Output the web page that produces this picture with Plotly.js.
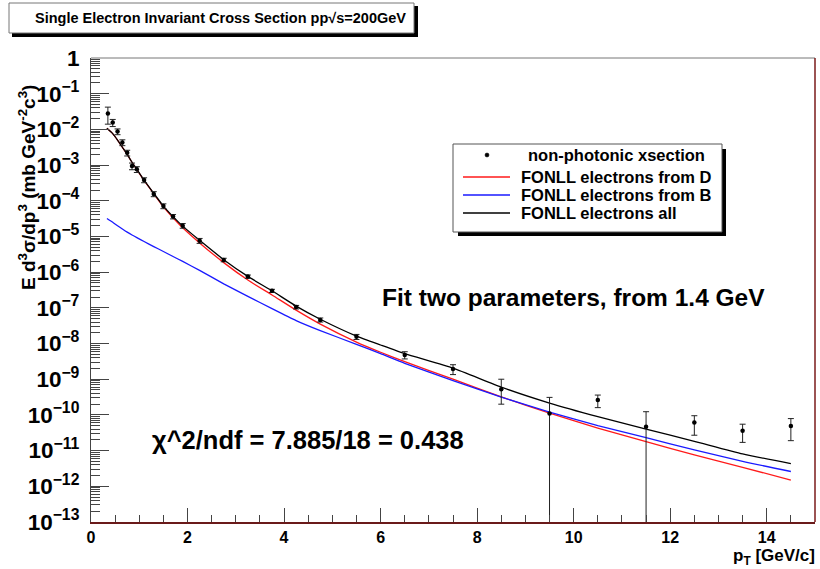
<!DOCTYPE html>
<html><head><meta charset="utf-8">
<script src="https://cdn.plot.ly/plotly-3.0.1.min.js"></script>
<style>html,body{margin:0;padding:0;background:#fff}#chart{width:820px;height:569px}</style>
</head><body><div id="chart"></div>
<script>
// measured data: non-photonic electron invariant cross section
const dataPt = [0.35,0.45,0.55,0.65,0.75,0.85,0.95,1.1,1.3,1.5,1.7,1.9,2.25,2.75,3.25,3.75,4.25,4.75,5.5,6.5,7.5,8.5,9.5,10.5,11.5,12.5,13.5,14.5];
const dataXsec = [2.8e-2,1.55e-2,8.7e-3,4.3e-3,2.2e-3,9.4e-4,7.6e-4,3.8e-4,1.55e-4,7.1e-5,3.6e-5,2.0e-5,7.6e-6,2.2e-6,7.5e-7,3.0e-7,1.05e-7,4.6e-8,1.55e-8,4.8e-9,1.95e-9,5.2e-10,1.1e-10,2.6e-10,4.7e-11,6.1e-11,3.6e-11,4.9e-11];
const dataErrPlus = [1.4e-2,3.5e-3,1.6e-3,8e-4,4e-4,2e-4,1.4e-4,6e-5,2.5e-5,1.1e-5,5e-6,3e-6,1.2e-6,2.5e-7,8e-8,3e-8,1.2e-8,6e-9,2.5e-9,1.1e-9,6e-10,4.8e-10,2.0e-10,1.0e-10,7.6e-11,3.4e-11,1.9e-11,3.0e-11];
const dataErrMinus = [1.4e-2,3.5e-3,1.6e-3,8e-4,4e-4,2e-4,1.4e-4,6e-5,2.5e-5,1.1e-5,5e-6,3e-6,1.2e-6,2.5e-7,8e-8,3e-8,1.2e-8,6e-9,2.5e-9,1.1e-9,6e-10,3.2e-10,2.0e-10,1.0e-10,7.6e-11,3.4e-11,1.9e-11,3.0e-11];

// FONLL curves
const curvePt = [0.33,0.45,0.55,0.65,0.75,0.85,0.95,1.1,1.3,1.5,1.7,1.9,2.25,2.75,3.25,3.75,4.25,4.75,5.5,6.0,6.5,7.5,8.5,9.5,10.5,11.5,12.5,13.5,14.5];
const fonllD = [1.07e-2,7.6e-3,5.0e-3,3.15e-3,1.98e-3,1.19e-3,7.5e-4,3.7e-4,1.57e-4,6.8e-5,3.35e-5,1.75e-5,6.6e-6,1.85e-6,6.0e-7,2.3e-7,8.6e-8,3.5e-8,1.1e-8,5.7e-9,3.1e-9,1.0e-9,3.2e-10,1.12e-10,4.3e-11,1.78e-11,7.6e-12,3.4e-12,1.5e-12];
const fonllB = [3.2e-5,2.5e-5,2.0e-5,1.62e-5,1.32e-5,1.1e-5,9.3e-6,7.2e-6,5.2e-6,3.8e-6,2.75e-6,2.0e-6,1.12e-6,4.7e-7,2.1e-7,9.5e-8,4.4e-8,2.3e-8,9.5e-9,5.2e-9,2.8e-9,9.2e-10,3.16e-10,1.2e-10,5.0e-11,2.3e-11,1.05e-11,5.0e-12,2.6e-12];
const fonllAll = [1.07e-2,7.6e-3,5.0e-3,3.16e-3,2.0e-3,1.2e-3,7.6e-4,3.8e-4,1.62e-4,7.1e-5,3.6e-5,1.95e-5,7.8e-6,2.24e-6,7.6e-7,3.0e-7,1.12e-7,4.8e-8,1.62e-8,9.1e-9,5.2e-9,2.04e-9,6.0e-10,2.14e-10,8.9e-11,4.0e-11,1.82e-11,8.1e-12,4.3e-12];

const legendLabels = ['non-photonic xsection','FONLL electrons from D','FONLL electrons from B','FONLL electrons all'];
const titleText = 'Single Electron Invariant Cross Section pp\u221As=200GeV';

const FONT = 'Liberation Sans, Arial, Helvetica, sans-serif';
const L = 91, T = 58, R = 815, B = 522; // plot area in pixels
const W = R - L, H = B - T;
function px(x){ return (x - L) / W; }
function py(y){ return (B - y) / H; }
function pixRect(x0, y0, x1, y1, style){
  return Object.assign({type:'rect', xref:'paper', yref:'paper', xsizemode:'pixel', ysizemode:'pixel',
    xanchor:0, yanchor:0, x0:x0-L, x1:x1-L, y0:B-y1, y1:B-y0}, style);
}
function pixCircle(x0, y0, x1, y1, style){
  return Object.assign(pixRect(x0, y0, x1, y1, style), {type:'circle'});
}
function pixLine(x0, y0, x1, y1, style){
  return Object.assign({type:'line', xref:'paper', yref:'paper', xsizemode:'pixel', ysizemode:'pixel',
    xanchor:0, yanchor:0, x0:x0-L, x1:x1-L, y0:B-y0, y1:B-y1}, style);
}

const traces = [
  {x: curvePt, y: fonllD, mode:'lines', line:{color:'#ff1a1a', width:1.3, shape:'spline', smoothing:0.5}, showlegend:false, hoverinfo:'skip'},
  {x: curvePt, y: fonllB, mode:'lines', line:{color:'#1a1aff', width:1.3, shape:'spline', smoothing:0.5}, showlegend:false, hoverinfo:'skip'},
  {x: curvePt, y: fonllAll, mode:'lines', line:{color:'#000000', width:1.3, shape:'spline', smoothing:0.5}, showlegend:false, hoverinfo:'skip'},
  {x: dataPt, y: dataXsec, mode:'markers', marker:{color:'#000', size:4.5},
   error_y:{type:'data', symmetric:false, array:dataErrPlus, arrayminus:dataErrMinus, color:'#222', thickness:1, width:3},
   showlegend:false}
];

const shapes = [
  // title box with shadow
  pixRect(12, 6, 418, 37, {fillcolor:'#000', line:{width:0}}),
  pixRect(9, 3, 414, 33, {fillcolor:'#fff', line:{color:'#777', width:1}}),
  // legend box with shadow
  pixRect(458, 149, 726, 236, {fillcolor:'#000', line:{width:0}}),
  pixRect(453, 144, 722, 232, {fillcolor:'#fff', line:{color:'#555', width:1}}),
  // legend samples
  pixLine(463, 177, 510, 177, {line:{color:'#ff1a1a', width:1.3}}),
  pixLine(463, 195, 510, 195, {line:{color:'#1a1aff', width:1.3}}),
  pixLine(463, 213, 510, 213, {line:{color:'#000', width:1.3}}),
  pixCircle(485, 153, 489, 157, {fillcolor:'#000', line:{color:'#000', width:0.5}}),
  // frame top/right
  pixLine(L, T, R, T, {line:{color:'#777', width:1}}),
  pixLine(R, T, R, B, {line:{color:'#7a1a1a', width:1.5}})
];

const LEGFONT = {family:FONT, size:16.5, color:'#000', weight:'bold'};
const annotations = [
  {xref:'paper', yref:'paper', x:px(526), y:py(155), xanchor:'left', yanchor:'middle', showarrow:false,
   text:legendLabels[0], font:LEGFONT},
  {xref:'paper', yref:'paper', x:px(519), y:py(177), xanchor:'left', yanchor:'middle', showarrow:false,
   text:legendLabels[1], font:LEGFONT},
  {xref:'paper', yref:'paper', x:px(519), y:py(195), xanchor:'left', yanchor:'middle', showarrow:false,
   text:legendLabels[2], font:LEGFONT},
  {xref:'paper', yref:'paper', x:px(519), y:py(213), xanchor:'left', yanchor:'middle', showarrow:false,
   text:legendLabels[3], font:LEGFONT},
  {xref:'paper', yref:'paper', x:px(380), y:py(297), xanchor:'left', yanchor:'middle', showarrow:false,
   text:'Fit two parameters, from 1.4 GeV', font:{family:FONT, size:24.5, color:'#000', weight:'bold'}},
  {xref:'paper', yref:'paper', x:px(150), y:py(440), xanchor:'left', yanchor:'middle', showarrow:false,
   text:'\u03C7^2/ndf = 7.885/18 = 0.438', font:{family:FONT, size:25.5, color:'#000', weight:'bold'}},
  {xref:'paper', yref:'paper', x:px(817), y:py(557), xanchor:'right', yanchor:'middle', showarrow:false,
   text:'p<sub>T</sub> [GeV/c]', font:{family:FONT, size:17, color:'#000', weight:'bold'}},
  {xref:'paper', yref:'paper', x:px(27), y:py(188), xanchor:'center', yanchor:'middle', showarrow:false, textangle:-90,
   text:'E d<sup>3</sup>\u03C3/dp<sup>3</sup> (mb GeV<sup>-2</sup>c<sup>3</sup>)', font:{family:FONT, size:19, color:'#000', weight:'bold'}}
];

const layout = {
  width:820, height:569,
  margin:{l:L, r:820-R, t:T, b:569-B, pad:0},
  paper_bgcolor:'#fff', plot_bgcolor:'#fff',
  showlegend:false,
  title:{text:titleText, xref:'container', yref:'container', x:35/820, xanchor:'left', y:1-18/569, yanchor:'middle',
         font:{family:FONT, size:14.5, color:'#000', weight:'bold'}},
  xaxis:{type:'linear', range:[0,15], dtick:2, tick0:0, ticks:'inside', ticklen:14, tickwidth:1, tickcolor:'#444',
         minor:{dtick:0.5, ticks:'inside', ticklen:7, tickcolor:'#444', tickwidth:1, showgrid:false},
         showline:true, linecolor:'#6a1a1a', linewidth:1.5, mirror:false, showgrid:false, zeroline:false,
         tickfont:{family:FONT, size:16, color:'#000', weight:'bold'}},
  yaxis:{type:'log', range:[-13,0], dtick:1, ticks:'inside', ticklen:18, tickwidth:1, tickcolor:'#444',
         exponentformat:'power',
         minor:{dtick:'D1', ticks:'inside', ticklen:9, tickcolor:'#444', tickwidth:1, showgrid:false},
         showline:true, linecolor:'#444', linewidth:1, mirror:false, showgrid:false, zeroline:false,
         ticklabelstandoff:7,
         tickfont:{family:FONT, size:18, color:'#000', weight:'bold'}},
  shapes: shapes,
  annotations: annotations
};

Plotly.newPlot('chart', traces, layout, {staticPlot:true, displayModeBar:false});
</script>
</body></html>
